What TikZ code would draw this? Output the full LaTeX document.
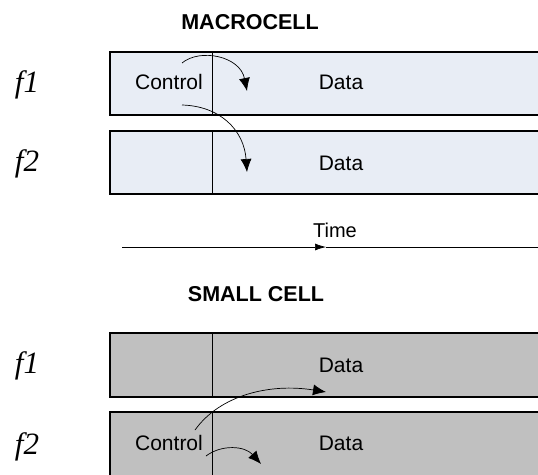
\documentclass[tikz,border=0pt]{standalone}
\usepackage{fontspec}
\setmainfont{Liberation Sans}
\newfontfamily\flabfont{Liberation Serif}
\usetikzlibrary{arrows.meta}
\definecolor{macfill}{HTML}{E8EDF5}
\definecolor{smallfill}{HTML}{C0C0C0}
\tikzset{
  cellbox/.style={draw=black, line width=0.8pt, inner sep=0pt, minimum height=63pt},
  framebox/.style={draw=black, line width=2pt, fill=none},
  lbl/.style={font=\fontsize{21}{25}\selectfont, inner sep=0pt},
  title/.style={font=\fontsize{21.5}{25}\selectfont\bfseries, inner sep=0pt},
  flab/.style={font=\flabfont\itshape\fontsize{31}{35}\selectfont, inner sep=0pt},
  sig/.style={line width=0.7pt, -{Latex[length=13pt,width=11pt]}},
}
\begin{document}
\begin{tikzpicture}[x=1pt,y=-1pt]
\useasboundingbox (0,0) rectangle (538,474);
\clip (0,0) rectangle (538,474);
% ---------- MACROCELL ----------
\node[title] (mtitle) at (250,22) {MACROCELL};
\node[cellbox, fill=macfill, minimum width=102pt] (mc1) at (161,83.5) {};
\node[cellbox, fill=macfill, minimum width=340pt, anchor=west] (md1) at (mc1.east) {};
\node[cellbox, fill=macfill, minimum width=102pt] (mc2) at (161,162.5) {};
\node[cellbox, fill=macfill, minimum width=340pt, anchor=west] (md2) at (mc2.east) {};
\draw[framebox] (mc1.north west) rectangle (md1.south east);
\draw[framebox] (mc2.north west) rectangle (md2.south east);
\node[lbl] (mctl) at (169,82) {Control};
\node[lbl] (mdat1) at (341,82) {Data};
\node[lbl] (mdat2) at (341,163) {Data};
\node[flab] (mf1) at (27,85) {f1};
\node[flab] (mf2) at (27,164) {f2};
\coordinate (ma1s) at (182,63);
\coordinate (ma1e) at (247,91);
\coordinate (ma2s) at (182,105);
\coordinate (ma2e) at (247,172);
\draw[sig] (ma1s) .. controls (200,48) and (240,56) .. (ma1e);
\draw[sig] (ma2s) .. controls (220,106) and (244,130) .. (ma2e);
% ---------- Time ----------
\node[lbl, font=\fontsize{20}{24}\selectfont] (time) at (335,230) {Time};
\coordinate (t0) at (122,247);
\coordinate (tm) at (326,247);
\coordinate (t1) at (545,247);
\draw[line width=0.7pt, -{Latex[length=11pt,width=7pt]}] (t0) -- (tm);
\draw[line width=0.7pt] (tm) -- (t1);
% ---------- SMALL CELL ----------
\node[title] (stitle) at (256,294) {SMALL CELL};
\node[cellbox, fill=smallfill, minimum width=102pt] (sc1) at (161,365) {};
\node[cellbox, fill=smallfill, minimum width=340pt, anchor=west] (sd1) at (sc1.east) {};
\node[cellbox, fill=smallfill, minimum width=102pt] (sc2) at (161,444) {};
\node[cellbox, fill=smallfill, minimum width=340pt, anchor=west] (sd2) at (sc2.east) {};
\draw[framebox] (sc1.north west) rectangle (sd1.south east);
\draw[framebox] (sc2.north west) rectangle (sd2.south east);
\node[lbl] (sdat1) at (341,365) {Data};
\node[lbl] (sdat2) at (341,443) {Data};
\node[lbl] (sctl) at (169,443) {Control};
\node[flab] (sf1) at (27,366) {f1};
\node[flab] (sf2) at (27,447) {f2};
\coordinate (sa1s) at (195,430);
\coordinate (sa1e) at (326,392);
\coordinate (sa2s) at (206,456);
\coordinate (sa2e) at (261,464);
\draw[sig] (sa1s) .. controls (220,395) and (270,383) .. (sa1e);
\draw[sig] (sa2s) .. controls (222,444) and (245,446) .. (sa2e);
\end{tikzpicture}
\end{document}
